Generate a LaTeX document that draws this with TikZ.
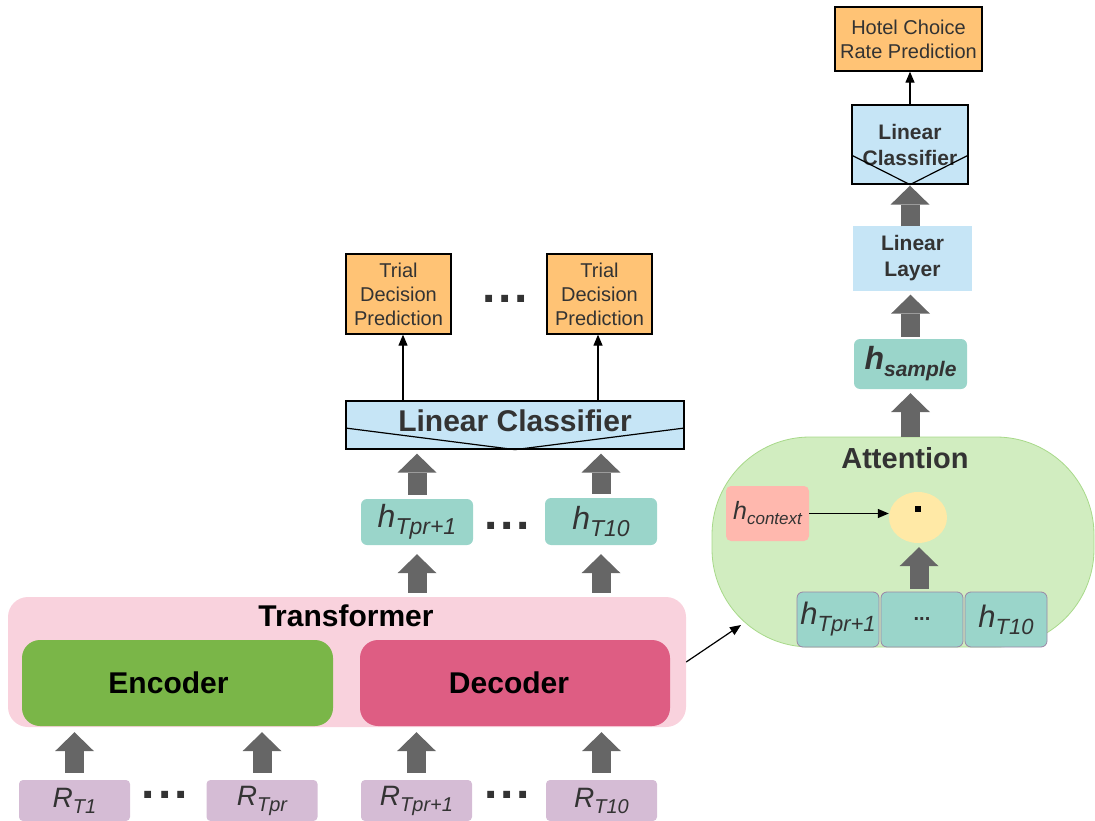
\documentclass[tikz,border=0pt]{standalone}
\usepackage{fontspec}
\setmainfont{Liberation Sans}
\usetikzlibrary{arrows.meta,shapes.geometric}
\definecolor{orangeF}{HTML}{FFC375}
\definecolor{blueF}{HTML}{C6E5F6}
\definecolor{tealF}{HTML}{9AD5CA}
\definecolor{attF}{HTML}{D1EDC0}
\definecolor{attD}{HTML}{A8D98A}
\definecolor{salF}{HTML}{FFB8AE}
\definecolor{yelF}{HTML}{FFE9A6}
\definecolor{pinkF}{HTML}{F9D2DD}
\definecolor{encF}{HTML}{7AB648}
\definecolor{decF}{HTML}{DE5D83}
\definecolor{lavF}{HTML}{D5BCD5}
\definecolor{fatG}{HTML}{666666}
\definecolor{txtG}{HTML}{333333}
\definecolor{purD}{HTML}{9A86A6}
\newcommand{\lbl}[5]{{\fontsize{#1}{#1}\selectfont #4}{\fontsize{#2}{#2}\selectfont\raisebox{-#3}{#5}}}
\begin{document}
\begin{tikzpicture}[x=1pt,y=-1pt,
  obox/.style={draw=black,line width=1.3pt,fill=orangeF,inner sep=0pt,align=center,text=txtG,font=\fontsize{20}{24}\selectfont},
  lcbox/.style={draw=black,line width=1.3pt,fill=blueF,inner sep=0pt,align=center,text=txtG},
  llbox/.style={fill=blueF,inner sep=0pt,align=center,text=txtG,font=\bfseries\fontsize{21}{26}\selectfont},
  tealbox/.style={fill=tealF,rounded corners=6pt,inner sep=0pt,align=center,text=txtG,font=\itshape},
  hbox/.style={fill=tealF,draw=purD,line width=0.8pt,rounded corners=6pt,inner sep=0pt,align=center,text=txtG,font=\itshape,minimum width=82pt,minimum height=55pt},
  rbox/.style={fill=lavF,rounded corners=4pt,inner sep=0pt,align=center,text=txtG,font=\itshape,minimum width=111pt,minimum height=41pt},
  dots/.style={inner sep=0pt,text=txtG,font=\bfseries\fontsize{48}{48}\selectfont},
  fat/.style={draw=fatG,line width=19pt,-{Triangle[width=39pt,length=19pt,line width=0pt]}},
  thinarr/.style={draw=black,line width=1.2pt,-{Triangle[width=9pt,length=11pt]}},
  title/.style={inner sep=0pt,font=\bfseries\fontsize{30}{30}\selectfont},
  block/.style={minimum height=86pt,rounded corners=18pt,inner sep=0pt,font=\bfseries\fontsize{30}{30}\selectfont}
]
\useasboundingbox (0,0) rectangle (1095,821);

% ---------- right column ----------
\node[obox,minimum width=147pt,minimum height=64pt] (hotel) at (908.5,39) {Hotel Choice\\Rate Prediction};
\node[lcbox,minimum width=116pt,minimum height=79pt,font=\bfseries\fontsize{21}{26}\selectfont] (lc2) at (910,144.5) {Linear\\Classifier};
\draw[line width=1.2pt] ([yshift=-10.5pt]lc2.west) -- (lc2.south) -- ([yshift=-10.5pt]lc2.east);
\draw[thinarr] (lc2.north) -- (lc2.north |- hotel.south);
\node[llbox,minimum width=119pt,minimum height=64pt] (ll) at (912.5,258.5) {Linear\\Layer};
\draw[fat,shorten >=1pt] (lc2.south |- ll.north) -- (lc2.south);
\node[tealbox,minimum width=113pt,minimum height=50pt,font=\bfseries\itshape] (hs) at (910.5,364) {\lbl{32}{21}{7pt}{h}{sample}};
\draw[fat,shorten >=4pt,shorten <=2pt] (hs.north) -- (hs.north |- ll.south);

\node[draw=attD,line width=0.8pt,fill=attF,minimum width=382pt,minimum height=210pt,rounded corners=98pt,inner sep=0pt] (att) at (903,542) {};
\node[title,text=txtG,font=\bfseries\fontsize{29}{29}\selectfont] (attt) at (905,458) {Attention};
\draw[fat,shorten >=4pt] (hs.south |- att.north) -- (hs.south);
\node[fill=salF,rounded corners=5pt,minimum width=83pt,minimum height=55pt,inner sep=0pt,text=txtG,font=\itshape] (hc) at (767.5,513.5) {\lbl{25}{17}{5pt}{h}{context}};
\node[ellipse,fill=yelF,minimum width=58pt,minimum height=51pt,inner sep=0pt] (ell) at (918,517.5) {};
\node[fill=black,minimum size=6pt,inner sep=0pt] (dotc) at (918,509) {};
\draw[thinarr] (hc.east) -- (hc.east -| ell.west);
\node[hbox] (a1) at (838,619.5) {\lbl{31}{22}{7pt}{h}{Tpr+1}};
\node[hbox,font=\bfseries] (a2) at (922,619.5) {\fontsize{20}{20}\selectfont ...};
\node[hbox] (a3) at (1006,619.5) {\lbl{31}{22}{7pt}{h}{T10}};
\draw[fat,shorten >=4pt,shorten <=3pt] ([xshift=-3pt]a2.north) -- ([xshift=-3pt]a2.north |- ell.south);

% ---------- middle column ----------
\node[obox,minimum width=105pt,minimum height=80pt] (td1) at (398.5,294) {Trial\\Decision\\Prediction};
\node[obox,minimum width=105pt,minimum height=80pt] (td2) at (599.5,294) {Trial\\Decision\\Prediction};
\node[dots] (d1) at (505,299) {.\kern3pt.\kern3pt.};
\node[lcbox,minimum width=338pt,minimum height=48pt] (lc1) at (515,425) {};
\node[inner sep=0pt,text=txtG,font=\bfseries\fontsize{30}{30}\selectfont] (lc1t) at (515,421) {Linear Classifier};
\draw[line width=1.2pt] ([yshift=-3pt]lc1.west) -- (lc1.south) -- ([yshift=-3pt]lc1.east);
\coordinate (t1b) at ([xshift=4.5pt]td1.south);
\coordinate (t2b) at ([xshift=-1.5pt]td2.south);
\draw[thinarr] (t1b |- lc1.north) -- (t1b);
\draw[thinarr] (t2b |- lc1.north) -- (t2b);

\node[tealbox,minimum width=112pt,minimum height=46pt] (h1) at (417,522) {\lbl{32}{23}{7pt}{h}{Tpr+1}};
\node[tealbox,minimum width=112pt,minimum height=47pt] (h2) at (601,521.5) {\lbl{32}{23}{7pt}{h}{T10}};
\node[dots] (d2) at (507,526) {.\kern3pt.\kern3pt.};
\draw[fat,shorten >=4pt,shorten <=4pt] (h1.north) -- (h1.north |- lc1.south);
\draw[fat,shorten >=4pt,shorten <=4pt] (h2.north) -- (h2.north |- lc1.south);

% ---------- transformer ----------
\node[fill=pinkF,minimum width=678pt,minimum height=130pt,rounded corners=20pt,inner sep=0pt] (trans) at (347,662) {};
\node[title] (transt) at (346,616) {Transformer};
\node[block,fill=encF,minimum width=311pt] (enc) at (177.5,683) {\hspace*{-18pt}Encoder};
\node[block,fill=decF,minimum width=310pt] (dec) at (515,683) {\hspace*{-12pt}Decoder};
\draw[fat,shorten >=9pt,shorten <=4pt] (h1.south |- trans.north) -- (h1.south);
\draw[fat,shorten >=9pt,shorten <=4pt] (h2.south |- trans.north) -- (h2.south);
\coordinate (attin) at (741,625);
\draw[thinarr] (trans.east) -- (attin);

% ---------- inputs ----------
\node[rbox] (r1) at (74.5,800.5) {\lbl{28}{20}{6pt}{R}{T1}};
\node[rbox] (r2) at (262,800.5) {\lbl{28}{20}{6pt}{R}{Tpr}};
\node[rbox] (r3) at (416.5,800.5) {\lbl{28}{20}{6pt}{R}{Tpr+1}};
\node[rbox] (r4) at (601.5,800.5) {\lbl{28}{20}{6pt}{R}{T10}};
\node[dots] (d3) at (165,795) {.\kern3pt.\kern3pt.};
\node[dots] (d4) at (507,795) {.\kern3pt.\kern3pt.};
\draw[fat,shorten >=6pt,shorten <=7pt] (r1.north) -- (r1.north |- enc.south);
\draw[fat,shorten >=6pt,shorten <=7pt] (r2.north) -- (r2.north |- enc.south);
\draw[fat,shorten >=6pt,shorten <=7pt] (r3.north) -- (r3.north |- dec.south);
\draw[fat,shorten >=6pt,shorten <=7pt] (r4.north) -- (r4.north |- dec.south);
\end{tikzpicture}
\end{document}
